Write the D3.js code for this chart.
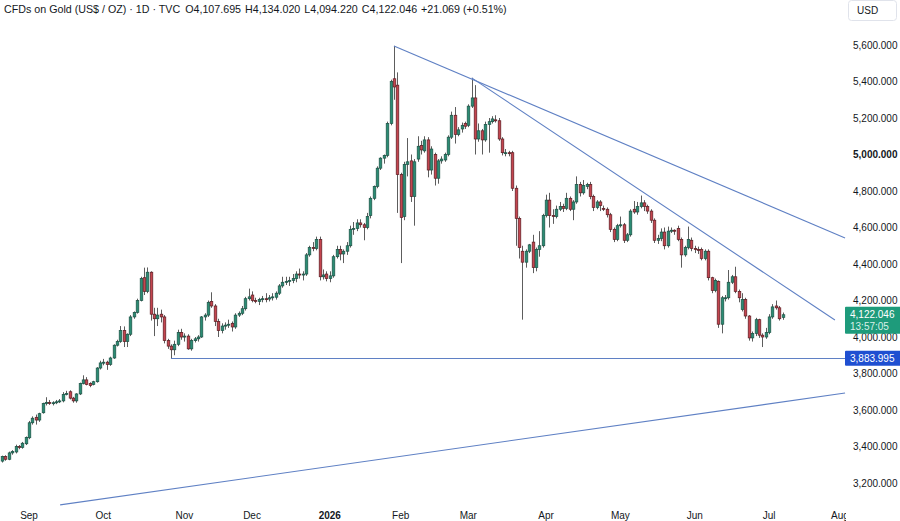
<!DOCTYPE html>
<html>
<head>
<meta charset="utf-8">
<script src="https://cdn.jsdelivr.net/npm/d3@7"></script>
<style>
  body { margin: 0; background: #fff; }
  svg { display: block; font-family: "Liberation Sans", Arial, sans-serif; }
</style>
</head>
<body>
<svg id="chart" width="900" height="521"></svg>
<script>
// daily candles, Aug 2025 -> Jul 2026
const opens = [3320,3345,3330,3365,3370,3400,3395,3415,3448,3530,3560,3545,3585,3635,3642,3635,3640,3645,3650,3688,
  3700,3665,3650,3688,3745,3765,3745,3740,3755,3830,3858,3862,3850,3885,3955,3975,4035,3975,4015,4110,
  4135,4200,4325,4250,4355,4125,4100,4125,4110,3980,3950,3930,3960,4025,4000,4005,3935,3980,3990,4000,
  4110,4120,4195,4170,4085,4035,4060,4065,4075,4055,4120,4130,4155,4210,4230,4200,4195,4205,4210,4208,
  4215,4218,4240,4280,4300,4305,4310,4320,4345,4340,4345,4450,4490,4485,4535,4330,4345,4320,4335,4440,
  4480,4455,4470,4500,4590,4595,4625,4615,4600,4665,4760,4825,4925,4980,4995,5170,5415,5380,4890,4660,
  4945,4965,4770,4975,5050,5020,5080,4915,5000,4870,4965,4970,5000,5095,5215,5110,5140,5170,5160,5265,
  5310,5085,5130,5080,5165,5180,5190,5185,5085,5005,5010,5010,4815,4650,4470,4410,4470,4520,4380,4480,
  4500,4665,4750,4665,4660,4700,4715,4705,4760,4700,4740,4835,4790,4825,4835,4770,4710,4740,4705,4700,
  4670,4590,4535,4610,4615,4530,4560,4700,4685,4715,4735,4715,4690,4640,4530,4540,4575,4500,4580,4585,
  4595,4535,4450,4490,4530,4485,4480,4480,4430,4470,4325,4255,4305,4070,4210,4215,4300,4330,4250,4150,
  4205,4115,3995,4020,4095,4010,4000,4025,4110,4170,4160,4107.695];
const highs = [3350,3352,3372,3380,3410,3408,3425,3455,3540,3565,3575,3585,3640,3670,3655,3648,3655,3660,3698,3705,
  3708,3672,3692,3750,3790,3780,3752,3760,3835,3870,3880,3870,3892,3960,3985,4060,4058,4020,4120,4140,
  4210,4330,4380,4381,4360,4160,4160,4150,4120,3990,3960,3980,4040,4045,4020,4015,3990,4000,4010,4115,
  4130,4200,4245,4180,4100,4075,4080,4095,4085,4130,4140,4170,4220,4265,4250,4215,4215,4225,4240,4230,
  4240,4250,4290,4330,4330,4330,4345,4360,4375,4360,4460,4500,4520,4550,4550,4370,4360,4360,4450,4500,
  4500,4480,4520,4610,4630,4645,4645,4625,4680,4770,4830,4935,4985,5000,5180,5410,5595,5450,4900,4960,
  5090,5000,4975,5100,5075,5100,5095,5045,5010,4975,4990,5010,5105,5235,5260,5150,5175,5180,5275,5420,
  5380,5170,5140,5180,5200,5210,5215,5200,5095,5030,5020,5020,4830,4660,4500,4480,4510,4560,4490,4580,
  4675,4780,4790,4700,4720,4740,4730,4790,4770,4750,4880,4850,4860,4845,4850,4780,4750,4750,4720,4710,
  4680,4600,4620,4660,4625,4570,4700,4745,4740,4775,4750,4725,4700,4650,4560,4595,4600,4605,4600,4590,
  4610,4545,4500,4605,4545,4500,4495,4490,4480,4480,4330,4320,4310,4225,4230,4367,4340,4385,4260,4240,
  4215,4120,4030,4105,4100,4020,4050,4125,4180,4200,4170,4134.02];
const lows = [3312,3322,3325,3355,3362,3385,3388,3408,3440,3520,3520,3535,3580,3625,3628,3625,3632,3638,3642,3680,
  3658,3640,3640,3682,3740,3735,3725,3735,3750,3822,3845,3820,3842,3880,3948,3968,3945,3945,4005,4100,
  4128,4195,4230,4240,4090,4005,4060,4080,3965,3935,3884,3900,3950,3985,3975,3930,3925,3970,3975,3995,
  4090,4110,4160,4060,4000,4020,4040,4050,4030,4045,4110,4120,4145,4200,4190,4185,4175,4190,4190,4195,
  4200,4205,4230,4270,4285,4280,4295,4300,4320,4310,4335,4440,4470,4475,4310,4315,4305,4300,4325,4430,
  4420,4405,4450,4490,4560,4580,4600,4530,4590,4650,4750,4815,4915,4950,4985,5160,5300,4680,4405,4640,
  4880,4740,4610,4960,5000,5010,4875,4890,4830,4840,4950,4960,4990,5085,5060,5100,5120,5140,5150,5255,
  5000,5070,5000,5070,5010,5170,5175,5075,4995,4990,4990,4800,4500,4430,4095,4380,4460,4350,4360,4440,
  4490,4655,4600,4620,4650,4690,4685,4695,4690,4640,4730,4770,4780,4810,4755,4690,4700,4690,4690,4655,
  4575,4520,4525,4600,4515,4520,4550,4675,4670,4705,4690,4675,4625,4515,4510,4525,4480,4490,4570,4560,
  4525,4380,4440,4480,4470,4460,4455,4420,4420,4310,4240,4245,4050,4020,4195,4205,4290,4240,4190,4140,
  4100,3980,3975,4005,3995,3945,3990,4015,4100,4150,4090,4094.22];
const closes = [3345,3330,3365,3372,3400,3395,3418,3450,3530,3555,3545,3580,3635,3642,3635,3640,3645,3650,3685,3690,
  3665,3650,3688,3745,3765,3740,3735,3755,3830,3858,3862,3850,3885,3955,3975,4035,3975,4015,4110,4135,
  4200,4320,4250,4355,4125,4100,4120,4110,3980,3950,3930,3960,4025,4000,4005,3935,3980,3990,4000,4110,
  4120,4190,4170,4085,4035,4060,4065,4070,4055,4120,4130,4155,4210,4220,4200,4195,4205,4210,4208,4215,
  4220,4240,4280,4300,4305,4310,4320,4345,4340,4345,4450,4490,4485,4535,4330,4340,4320,4335,4440,4480,
  4455,4470,4500,4590,4595,4625,4615,4600,4660,4760,4825,4925,4980,4995,5170,5400,5370,4890,4655,4945,
  4960,4770,4960,5045,5025,5080,4915,5030,4870,4965,4975,5000,5095,5215,5110,5135,5160,5155,5265,5310,
  5085,5130,5080,5165,5180,5195,5185,5085,5010,5010,5005,4815,4650,4490,4410,4470,4505,4380,4480,4500,
  4665,4750,4665,4660,4700,4715,4705,4760,4700,4740,4835,4790,4830,4835,4770,4710,4740,4720,4700,4670,
  4590,4535,4610,4615,4530,4560,4690,4685,4715,4735,4715,4690,4640,4530,4540,4575,4500,4580,4585,4580,
  4535,4450,4490,4535,4485,4480,4475,4430,4470,4325,4255,4310,4070,4215,4215,4300,4330,4250,4215,4205,
  4115,3995,4020,4095,4010,4000,4025,4110,4165,4160,4100,4122.046];

const priceTicks = [3200,3400,3600,3800,4000,4200,4400,4600,4800,5000,5200,5400,5600];
const monthLabels = ["Sep","Oct","Nov","Dec","2026","Feb","Mar","Apr","May","Jun","Jul","Aug"];
const monthIndex = [8,30,54,74,97,118,138,161,183,205,227,248];

// drawings: [candle index, price]
const trendLines = [
  [[116,5595],[249.5,4543]],
  [[139,5420],[246.5,4093]],
  [[17.2,3080],[249.5,3693]]
];
const supportLevel = 3883.995;
const supportFrom = 50;
const lastPrice = 4122.046;
const countdown = "13:57:05";
const change = "+21.069 (+0.51%)";

const W = 900, H = 521, plotRight = 846;
const svg = d3.select("#chart");

const x = d3.scaleLinear().domain([0,250]).range([2, 2 + 250*3.379]);
const y = d3.scaleLinear().domain([3200,5600]).range([483,45]);

const upFill = "#2b8c74", upLine = "#1c5245";
const dnFill = "#c4454f", dnLine = "#5b1c22";
const lineCol = "#5f80c4";
const fmt = d3.format(",.3f");

svg.append("clipPath").attr("id","plotclip")
  .append("rect").attr("x",0).attr("y",0).attr("width",plotRight).attr("height",H);

const plot = svg.append("g").attr("clip-path","url(#plotclip)");

const idx = d3.range(closes.length);

// wicks
plot.append("g").selectAll("line").data(idx).enter().append("line")
  .attr("x1", d => Math.round(x(d)) + 0.5)
  .attr("x2", d => Math.round(x(d)) + 0.5)
  .attr("y1", d => y(highs[d]))
  .attr("y2", d => y(lows[d]))
  .attr("stroke", "#5d5d5d")
  .attr("stroke-width", 1);

// bodies
plot.append("g").selectAll("rect").data(idx).enter().append("rect")
  .attr("x", d => Math.round(x(d)) - 0.8)
  .attr("width", 2.6)
  .attr("y", d => y(Math.max(opens[d], closes[d])))
  .attr("height", d => Math.max(1, Math.abs(y(opens[d]) - y(closes[d]))))
  .attr("fill", d => closes[d] >= opens[d] ? upFill : dnFill)
  .attr("stroke", d => closes[d] >= opens[d] ? upLine : dnLine)
  .attr("stroke-width", 0.7);

// trend lines
plot.append("g").selectAll("line").data(trendLines).enter().append("line")
  .attr("x1", d => x(d[0][0])).attr("y1", d => y(d[0][1]))
  .attr("x2", d => x(d[1][0])).attr("y2", d => y(d[1][1]))
  .attr("stroke", lineCol).attr("stroke-width", 1.1);

plot.append("line")
  .attr("x1", x(supportFrom)).attr("x2", W)
  .attr("y1", Math.round(y(supportLevel)) + 0.5).attr("y2", Math.round(y(supportLevel)) + 0.5)
  .attr("stroke", lineCol).attr("stroke-width", 1.1);

// price axis
const yAxis = d3.axisRight(y).tickValues(priceTicks).tickSize(0).tickPadding(7)
  .tickFormat(fmt);
const ya = svg.append("g").attr("transform", `translate(${plotRight},0)`).call(yAxis);
ya.select(".domain").remove();
ya.selectAll("text").attr("fill","#131722").style("font-size","10px")
  .style("font-family",'"Liberation Sans", Arial, sans-serif')
  .style("font-weight", d => d === 5000 ? "bold" : "normal");

// time axis
svg.append("clipPath").attr("id","axisclip")
  .append("rect").attr("x",0).attr("y",500).attr("width",plotRight).attr("height",21);
const xa = svg.append("g").attr("clip-path","url(#axisclip)");
xa.selectAll("text").data(monthIndex).enter().append("text")
  .attr("x", d => x(d)).attr("y", 519)
  .attr("text-anchor","middle")
  .attr("fill","#131722").style("font-size","10px")
  .style("font-weight", (d,i) => monthLabels[i] === "2026" ? "bold" : "normal")
  .text((d,i) => monthLabels[i]);

// last price tag
const lp = svg.append("g");
lp.append("rect").attr("x", plotRight-1).attr("y", y(lastPrice)-8).attr("width", 56).attr("height", 27)
  .attr("fill","#1e9b7b").attr("rx",1);
lp.append("text").attr("x", plotRight+4).attr("y", y(lastPrice)+3.5)
  .attr("fill","#fff").style("font-size","10px").text(fmt(lastPrice));
lp.append("text").attr("x", plotRight+4).attr("y", y(lastPrice)+15)
  .attr("fill","#d8f0e8").style("font-size","10px").text(countdown);

// support tag
const sp = svg.append("g");
sp.append("rect").attr("x", plotRight-1).attr("y", y(supportLevel)-7.5).attr("width", 56).attr("height", 15)
  .attr("fill","#1f4fd1").attr("rx",1);
sp.append("text").attr("x", plotRight+4).attr("y", y(supportLevel)+3.5)
  .attr("fill","#fff").style("font-size","10px").text(fmt(supportLevel));

// currency box
svg.append("rect").attr("x",848.5).attr("y",0.5).attr("width",48).attr("height",20).attr("rx",3)
  .attr("fill","#fff").attr("stroke","#e0e3eb");
svg.append("text").attr("x",857).attr("y",14).attr("fill","#131722").style("font-size","10px").text("USD");

// header
const last = closes.length - 1;
const hdr = svg.append("text").attr("x",4).attr("y",13).attr("fill","#131722").style("font-size","10.7px");
hdr.append("tspan").text("CFDs on Gold (US$ / OZ) · 1D · TVC");
hdr.append("tspan").attr("dx",5).text("O" + fmt(opens[last]));
hdr.append("tspan").attr("dx",4).text("H" + fmt(highs[last]));
hdr.append("tspan").attr("dx",4).text("L" + fmt(lows[last]));
hdr.append("tspan").attr("dx",4).text("C" + fmt(closes[last]));
hdr.append("tspan").attr("dx",4).text(change);
</script>
</body>
</html>
